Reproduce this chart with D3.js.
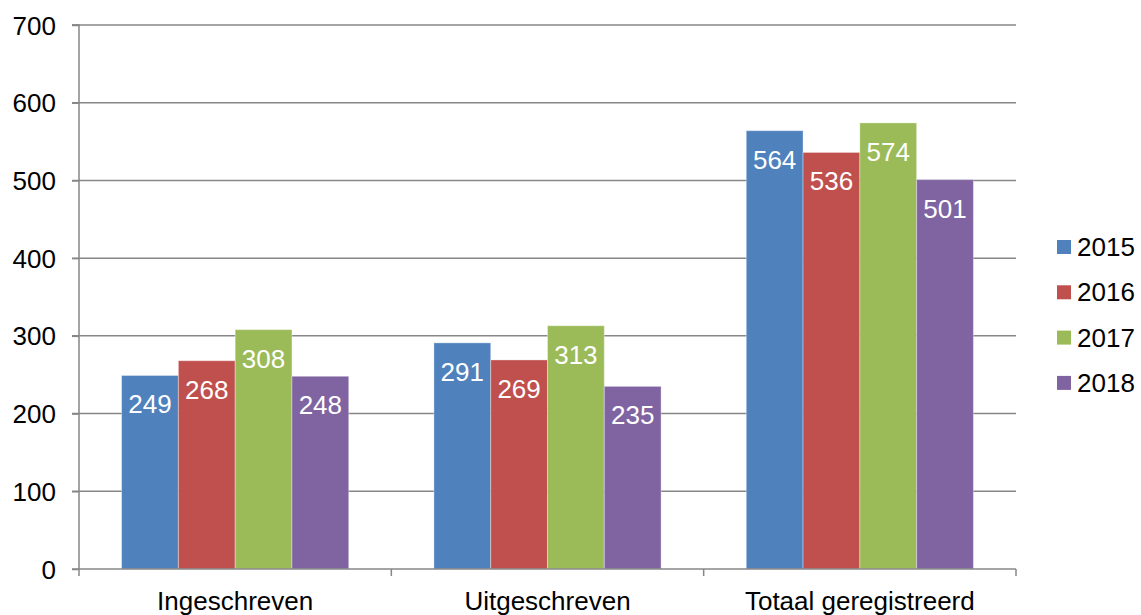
<!DOCTYPE html>
<html>
<head>
<meta charset="utf-8">
<script src="https://cdn.jsdelivr.net/npm/d3@7"></script>
<style>
  body { margin: 0; background: #fff; }
  svg { display: block; font-family: "Liberation Sans", Arial, sans-serif; }
</style>
</head>
<body>
<svg id="chart" width="1141" height="615"></svg>
<script>
const categories = ["Ingeschreven", "Uitgeschreven", "Totaal geregistreerd"];
const seriesNames = ["2015", "2016", "2017", "2018"];
const values2015 = [249, 291, 564];
const values2016 = [268, 269, 536];
const values2017 = [308, 313, 574];
const values2018 = [248, 235, 501];
const yTicks = [0, 100, 200, 300, 400, 500, 600, 700];
const colors = ["#4F81BD", "#C0504D", "#9BBB59", "#8064A2"];

const seriesValues = [values2015, values2016, values2017, values2018];

const svg = d3.select("#chart");
const pLeft = 79, pRight = 1016, pTop = 25, pBottom = 569;

const x0 = d3.scaleBand().domain(categories).range([pLeft, pRight]).paddingInner(0).paddingOuter(0);
const barW = x0.bandwidth() / 5.5;
const x1 = d3.scaleBand().domain(seriesNames).range([0, barW * 4]).padding(0);
const y = d3.scaleLinear().domain([0, 700]).range([pBottom, pTop]);

const gridColor = "#878787";

// gridlines
svg.append("g").selectAll("line").data(yTicks.filter(d => d > 0)).join("line")
  .attr("x1", pLeft - 7).attr("x2", pRight)
  .attr("y1", d => y(d)).attr("y2", d => y(d))
  .attr("stroke", gridColor).attr("stroke-width", 1.5);

// bars
const groups = svg.append("g").selectAll("g").data(categories).join("g")
  .attr("transform", c => `translate(${x0(c) + barW * 0.75},0)`);

groups.each(function(c, ci) {
  const g = d3.select(this);
  seriesNames.forEach((s, si) => {
    const v = seriesValues[si][ci];
    g.append("rect")
      .attr("x", x1(s)).attr("y", y(v))
      .attr("width", x1.bandwidth()).attr("height", y(0) - y(v))
      .attr("fill", colors[si])
      .attr("stroke", "rgba(255,255,255,0.35)").attr("stroke-width", 1);
    g.append("text")
      .attr("x", x1(s) + x1.bandwidth() / 2).attr("y", y(v) + 38)
      .attr("text-anchor", "middle").attr("fill", "#fff")
      .attr("font-size", 26).text(v);
  });
});

// y axis
const yAxis = d3.axisLeft(y).tickValues(yTicks).tickSize(7).tickPadding(16);
const ya = svg.append("g").attr("transform", `translate(${pLeft},0)`).call(yAxis);
ya.select(".domain").attr("stroke", gridColor).attr("stroke-width", 1.5).attr("d", `M-7,${pTop}H0V${pBottom}`);
ya.selectAll(".tick line").attr("stroke", gridColor).attr("stroke-width", 1.5);
ya.selectAll(".tick text").attr("font-size", 26).attr("fill", "#000")
  .attr("font-family", "'Liberation Sans', Arial, sans-serif").attr("dy", "0.35em");

// x axis
const xa = svg.append("g").attr("transform", `translate(0,${pBottom})`);
xa.append("line").attr("x1", pLeft - 7).attr("x2", pRight).attr("y1", 0).attr("y2", 0)
  .attr("stroke", gridColor).attr("stroke-width", 1.5);
const bounds = categories.map(c => x0(c)).concat([pRight]);
xa.selectAll("line.tk").data(bounds).join("line").attr("class", "tk")
  .attr("x1", d => d).attr("x2", d => d).attr("y1", 0).attr("y2", 7)
  .attr("stroke", gridColor).attr("stroke-width", 1.5);
xa.selectAll("text").data(categories).join("text")
  .attr("x", c => x0(c) + x0.bandwidth() / 2).attr("y", 41)
  .attr("text-anchor", "middle").attr("font-size", 26).attr("fill", "#000").text(c => c);

// legend
const lg = svg.append("g").selectAll("g").data(seriesNames).join("g")
  .attr("transform", (d, i) => `translate(1057,${247 + i * 45.3})`);
lg.append("rect").attr("x", 0).attr("y", -7).attr("width", 14).attr("height", 14)
  .attr("fill", (d, i) => colors[i]);
lg.append("text").attr("x", 20).attr("y", 9).attr("font-size", 26).attr("fill", "#000").text(d => d);
</script>
</body>
</html>
